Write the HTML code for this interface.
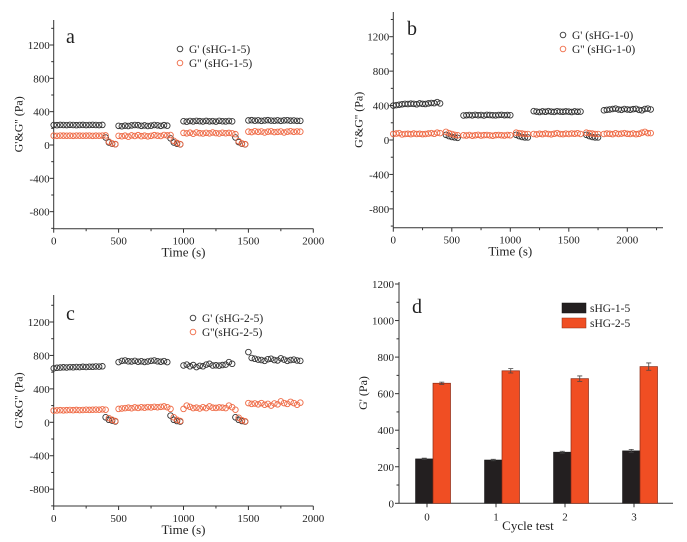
<!DOCTYPE html>
<html><head><meta charset="utf-8"><style>
body{margin:0;background:#fff;}
svg{display:block;font-family:"Liberation Serif",serif;}
</style></head><body>
<svg id="fig" width="687" height="542" viewBox="0 0 687 542" xmlns="http://www.w3.org/2000/svg"></svg>
<script>
// ---- Panel a data (t = 0..1900 step 25) ----
const aGp = [240,238,241,240,239,242,240,238,240,241,239,240,242,240,239,241, 90,30,15,10,
 230,225,232,228,235,240,238,230,235,228,232,240,236,230,238,232, 80,30,15,8,
 285,280,288,283,290,286,282,289,284,287,281,290,285,283,288,284, 90,35,15,8,
 295,298,292,296,290,294,298,293,291,296,290,295,297,292,294,290,290];
const aGpp = [112,110,113,112,111,112,110,113,112,111,112,113,110,112,111,113, 115,40,20,10,
 110,105,112,100,115,108,118,106,112,104,110,118,112,108,120,115, 120,50,25,10,
 145,140,148,135,150,142,138,146,140,150,143,138,147,141,145,140, 130,45,20,10,
 160,155,165,158,162,150,160,164,155,158,162,150,160,165,158,162,160];
// ---- Panel b data (t = 0..2200 step 25, null = gap) ----
const bGp = [400,405,410,415,420,418,422,420,415,425,420,418,425,430,428,440,425, null,
 60,45,35,30,25, null,
 285,288,290,286,292,288,290,285,292,290,288,286,290,292,288,290,288, null,
 60,45,35,30,30, null,
 335,330,325,332,328,335,330,326,334,330,328,332,330,325,332,328,330, null,
 60,45,35,30,30, null,
 345,350,355,360,365,355,350,360,355,352,358,362,350,345,360,365,355];
const bGpp = [70,75,80,65,70,72,68,75,70,72,68,70,75,80,72,85,80, null,
 95,80,70,60,55, null,
 55,52,58,50,55,60,52,56,58,54,50,56,58,55,52,58,55, null,
 85,80,75,70,70, null,
 70,65,72,68,75,70,66,72,80,70,68,74,70,76,72,78,70, null,
 85,80,75,70,70, null,
 70,75,72,68,78,70,74,80,72,70,76,68,72,85,95,80,80];
// ---- Panel c data (t = 0..1900 step 25) ----
const cGp = [645,652,655,658,656,660,658,662,660,664,662,665,664,668,666,670, 60,30,20,10,
 720,735,740,730,728,735,725,730,722,728,735,740,730,725,732,720, 80,30,15,8,
 680,690,670,685,660,675,670,690,700,680,682,678,685,690,720,700, 60,30,15,8,
 840,770,760,750,745,735,755,760,745,740,765,750,735,745,750,740,735];
const cGpp = [140,142,145,143,145,147,145,148,146,147,150,148,150,152,150,155, 150,50,30,15,
 160,165,170,175,168,178,172,180,175,182,178,185,180,185,190,180, 160,60,30,15,
 160,200,185,170,175,165,180,170,190,175,172,178,175,170,200,180, 150,55,25,12,
 230,220,225,215,230,210,220,200,225,215,250,230,220,245,230,210,235];
// ---- Panel d data ----
const dCats = ['0','1','2','3'];
const d15 = [243,237,280,287];
const d25 = [657,725,682,748];
const d15err = [4,4,5,8];
const d25err = [6,12,15,20];

const NS='http://www.w3.org/2000/svg';
const svg=document.getElementById('fig');
function mk(tag,attrs,parent){const e=document.createElementNS(NS,tag);for(const k in attrs)e.setAttribute(k,attrs[k]);(parent||svg).appendChild(e);return e;}
function txt(s,x,y,size,anchor,parent){const t=mk('text',{x:x,y:y,'font-size':size,'text-anchor':anchor||'middle',fill:'#222'},parent);t.textContent=s;return t;}

function scatterPanel(o){
  const g=mk('g',{});
  
  
  const X=v=>o.x0+(v-0)/(2000)*(o.x2000-o.x0);
  const Y=v=>o.y0+(v/1200)*(o.y1200-o.y0);
  // axes
  const ya=mk('line',{x1:o.x0,y1:o.top,x2:o.x0,y2:o.bottom,stroke:'#333','stroke-width':1},g);
  
  const xa=mk('line',{x1:o.x0,y1:o.bottom,x2:o.xend,y2:o.bottom,stroke:'#333','stroke-width':1},g);
  
  for(let v=-1000;v<=1400;v+=200){const y=Y(v);if(y<o.top||y>o.bottom)continue;
    const major=(v%400===0);
    mk('line',{x1:o.x0-(major?4:2.5),y1:y,x2:o.x0,y2:y,stroke:'#333'},g);
    if(major&&v>=-800&&v<=1200){const t=txt(String(v),o.x0-4,y+4,11,'end',g);}
  }
  for(let v=0;X(v)<=o.xend+0.5;v+=250){const x=X(v);const major=(v%500===0);
    mk('line',{x1:x,y1:o.bottom,x2:x,y2:o.bottom+(major?4:2.5),stroke:'#333'},g);
    if(major){const t=txt(String(v),x,o.bottom+16,11,'middle',g);}
  }
  const xt=txt('Time (s)',(o.x0+o.x2000)/2,o.bottom+28,13,'middle',g);
  
  const cy=(o.top+o.bottom)/2;
  const yt=txt("G'&G'' (Pa)",0,0,12,'middle',g);
  yt.setAttribute('transform','translate('+(o.x0-31)+','+cy+') rotate(-90)');
  
  const pl=txt(o.id,o.labelX,o.labelY,20,'start',g);
  
  const series=[[o.gp,'#333','storage-modulus-point'],[o.gpp,'#ef6a45','loss-modulus-point']];
  series.forEach(([arr,col,nm])=>{
    arr.forEach((v,i)=>{ if(v===null)return;
      const c=mk('circle',{cx:X(i*25),cy:Y(v),r:2.8,fill:'none',stroke:col,'stroke-width':0.9},g);
      
      
    });
  });
  o.legend.forEach((l,i)=>{
    const lg=mk('g',{},g);
    
    
    mk('circle',{cx:o.legX,cy:o.legY+i*14,r:2.8,fill:'none',stroke:i?'#ef6a45':'#333','stroke-width':0.9},lg);
    txt(l,o.legX+9,o.legY+i*14+4,11.5,'start',lg);
  });
}
scatterPanel({id:'a',x0:53.7,x2000:313.3,xend:313.3,y0:145,y1200:45,top:20,bottom:228.7,gp:aGp,gpp:aGpp,
  labelX:66,labelY:43,legX:180,legY:49,legend:["G' (sHG-1-5)","G'' (sHG-1-5)"]});
scatterPanel({id:'b',x0:393.3,x2000:627.3,xend:663,y0:140,y1200:36.7,top:12,bottom:227.7,gp:bGp,gpp:bGpp,
  labelX:407,labelY:35,legX:563,legY:35,legend:["G' (sHG-1-0)","G'' (sHG-1-0)"]});
scatterPanel({id:'c',x0:53.7,x2000:313.3,xend:313.3,y0:422.3,y1200:322,top:295,bottom:506,gp:cGp,gpp:cGpp,
  labelX:66,labelY:320,legX:193,legY:318,legend:["G' (sHG-2-5)","G''(sHG-2-5)"]});

// ---- Panel d: bar chart ----
(function(){
  const g=mk('g',{});
  
  
  const x0=399,xend=673,y0=503.3,y1200=284;
  const Y=v=>y0+(v/1200)*(y1200-y0);
  const X=i=>433+i*69;
  const bw=17.5;
  mk('line',{x1:x0,y1:282,x2:x0,y2:y0,stroke:'#333'},g);
  mk('line',{x1:x0,y1:y0,x2:xend,y2:y0,stroke:'#333'},g);
  for(let v=0;v<=1200;v+=100){const y=Y(v);const major=v%200===0;
    mk('line',{x1:x0-(major?4:2.5),y1:y,x2:x0,y2:y,stroke:'#333'},g);
    if(major){const t=txt(String(v),x0-5,y+4,11,'end',g);}
  }
  dCats.forEach((c,i)=>{const x=X(i)-6;
    mk('line',{x1:x,y1:y0,x2:x,y2:y0+4,stroke:'#333'},g);
    const t=txt(c,x,y0+17,11,'middle',g);
    const b1=mk('rect',{x:X(i)-bw,y:Y(d15[i]),width:bw,height:y0-Y(d15[i]),fill:'#231f20',stroke:'#111','stroke-width':0.5},g);
    
    const b2=mk('rect',{x:X(i),y:Y(d25[i]),width:bw,height:y0-Y(d25[i]),fill:'#f04e23',stroke:'#8a2a15','stroke-width':0.7},g);
    
    [[X(i)-bw/2,d15[i],d15err[i]],[X(i)+bw/2,d25[i],d25err[i]]].forEach(([cx,v,e])=>{
      const eb=mk('path',{d:'M'+cx+','+Y(v-e)+'V'+Y(v+e)+'M'+(cx-2.5)+','+Y(v+e)+'h5M'+(cx-2.5)+','+Y(v-e)+'h5',stroke:'#444','stroke-width':0.8,fill:'none'},g);
      
    });
  });
  const xt=txt('Cycle test',(x0+xend)/2-8,530,13,'middle',g);
  
  const yt=txt("G' (Pa)",0,0,12,'middle',g);
  yt.setAttribute('transform','translate(367,393) rotate(-90)');
  
  const pl=txt('d',412,313,20,'start',g);
  
  [['sHG-1-5','#231f20'],['sHG-2-5','#f04e23']].forEach(([l,c],i)=>{
    const lg=mk('g',{},g);
    
    
    mk('rect',{x:562,y:303+i*15,width:24,height:10,fill:c,stroke:i?'#8a2a15':'#111','stroke-width':0.5},lg);
    txt(l,590,312+i*15,11.5,'start',lg);
  });
})();
</script>
</body></html>
